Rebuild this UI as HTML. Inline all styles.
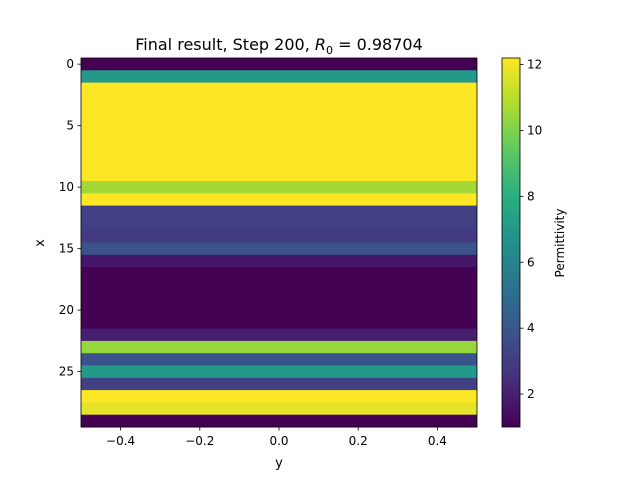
<!DOCTYPE html>
<html><head><meta charset="utf-8"><style>
body{margin:0;background:#fff}
svg text{font-family:"DejaVu Sans","Liberation Sans",sans-serif;fill:#000}
</style></head><body>
<svg id="chart" width="640" height="480" xmlns="http://www.w3.org/2000/svg">
<defs>
<linearGradient id="vir" x1="0" y1="1" x2="0" y2="0">
<stop offset="0" stop-color="#440154"/><stop offset="0.125" stop-color="#472d7b"/><stop offset="0.25" stop-color="#3b528b"/><stop offset="0.375" stop-color="#2c728e"/><stop offset="0.5" stop-color="#21918c"/><stop offset="0.625" stop-color="#28ae80"/><stop offset="0.75" stop-color="#5ec962"/><stop offset="0.875" stop-color="#addc30"/><stop offset="1" stop-color="#fde725"/>
</linearGradient>
</defs>
<text x="279" y="50" font-size="16" text-anchor="middle">Final result, Step 200, <tspan font-style="italic">R</tspan><tspan font-size="11" dy="4">0</tspan><tspan dy="-4"> = 0.98704</tspan></text>
<g id="cells"></g>
<g id="axes"></g>
<rect x="502" y="58" width="18" height="369" fill="url(#vir)" stroke="#000" stroke-width="0.8"/>
<g id="cbticks"></g>
<text x="564" y="243" font-size="12" text-anchor="middle" transform="rotate(-90 564 243)">Permittivity</text>
<text x="279" y="467" font-size="13" text-anchor="middle">y</text>
<text x="44" y="243" font-size="13" text-anchor="middle" transform="rotate(-90 44 243)">x</text>
</svg>
<script>
const rowIndex=[0,1,2,3,4,5,6,7,8,9,10,11,12,13,14,15,16,17,18,19,20,21,22,23,24,25,26,27,28,29];
const permittivity=[1.0,7.0,12.2,12.2,12.2,12.2,12.2,12.2,12.2,12.2,10.6,12.2,3.1,3.1,2.9,3.8,1.7,1.0,1.0,1.0,1.0,1.0,2.0,10.4,3.9,7.0,3.1,12.2,11.8,1.0];
const yTicks=[0,5,10,15,20,25];
const xTicks=[-0.4,-0.2,0.0,0.2,0.4];
const xTickLabels=["\u22120.4","\u22120.2","0.0","0.2","0.4"];
const cbTicks=[2,4,6,8,10,12];
const vmin=1.0,vmax=12.2;
const L=81,R=477,T=58,B=427;
const ys=v=>T+(v+0.5)/30*(B-T);
const xs=v=>L+(v+0.5)*(R-L);
const cs=v=>B-(v-vmin)/(vmax-vmin)*(B-T);
const stops=["#440154","#472d7b","#3b528b","#2c728e","#21918c","#28ae80","#5ec962","#addc30","#fde725"].map(h=>[1,3,5].map(i=>parseInt(h.substr(i,2),16)));
function vir(v){let t=Math.max(0,Math.min(1,(v-vmin)/(vmax-vmin)))*8;let i=Math.min(7,Math.floor(t)),f=t-i;
return "rgb("+stops[i].map((c,k)=>Math.round(c+(stops[i+1][k]-c)*f)).join(",")+")";}
const NS="http://www.w3.org/2000/svg";
const cells=document.getElementById("cells"),axes=document.getElementById("axes"),cb=document.getElementById("cbticks");
function mk(tag,a,parent){const e=document.createElementNS(NS,tag);for(const k in a)e.setAttribute(k,a[k]);parent.appendChild(e);return e;}
rowIndex.forEach((r,i)=>{
 const y0=ys(r-0.5),y1=ys(r+0.5);
 const e=mk("rect",{x:L,y:y0,width:R-L,height:y1-y0+0.5,fill:vir(permittivity[i])},cells);
 
 
});
const fr=mk("rect",{x:L,y:T,width:R-L,height:B-T,fill:"none",stroke:"#000","stroke-width":0.8},axes);


yTicks.forEach(v=>{const y=ys(v);
 mk("line",{x1:L-3.5,x2:L,y1:y,y2:y,stroke:"#000","stroke-width":0.8},axes);
 const t=mk("text",{x:L-7,y:y+4,"font-size":12,"text-anchor":"end"},axes);t.textContent=v;
 
 
});
xTicks.forEach((v,i)=>{const x=xs(v);
 mk("line",{x1:x,x2:x,y1:B,y2:B+3.5,stroke:"#000","stroke-width":0.8},axes);
 const t=mk("text",{x:x,y:B+18,"font-size":12,"text-anchor":"middle"},axes);t.textContent=xTickLabels[i];
 
 
});
cbTicks.forEach(v=>{const y=cs(v);
 mk("line",{x1:520,x2:523.5,y1:y,y2:y,stroke:"#000","stroke-width":0.8},cb);
 const t=mk("text",{x:527,y:y+4,"font-size":12},cb);t.textContent=v;
 
 
});
</script>
</body></html>
